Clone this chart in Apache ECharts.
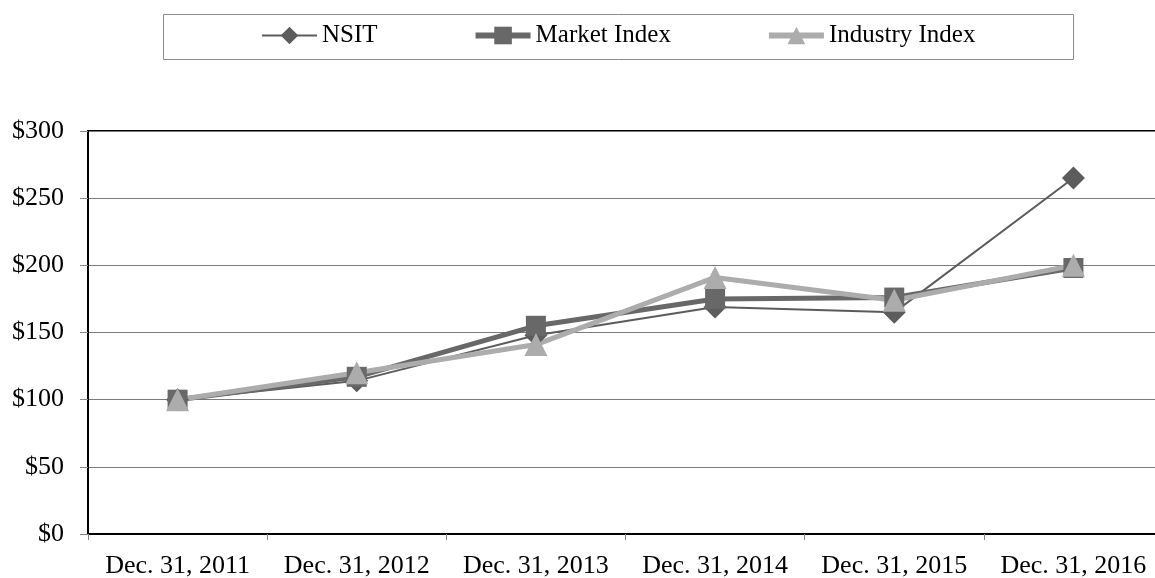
<!DOCTYPE html>
<html>
<head>
<meta charset="utf-8">
<script src="https://cdn.jsdelivr.net/npm/echarts@6/dist/echarts.min.js"></script>
<style>
html,body{margin:0;padding:0;background:#fff;}
#chart{width:1155px;height:578px;}
</style>
</head>
<body>
<div id="chart"></div>
<script>
var categories = ['Dec. 31, 2011','Dec. 31, 2012','Dec. 31, 2013','Dec. 31, 2014','Dec. 31, 2015','Dec. 31, 2016'];
var nsitValues = [100, 114, 148, 169, 165, 265];
var marketValues = [100, 117, 155, 175, 176, 198];
var industryValues = [100, 120, 141, 191, 174, 200];
var seriesNames = ['NSIT', 'Market Index', 'Industry Index'];

var FONT = "'Liberation Serif', 'Times New Roman', serif";
var chart = echarts.init(document.getElementById('chart'), null, {renderer: 'canvas'});
chart.setOption({
  animation: false,
  backgroundColor: '#ffffff',
  graphic: [{
    type: 'rect',
    shape: {x: 163.5, y: 14.5, width: 910, height: 45},
    style: {fill: 'none', stroke: '#8c8c8c', lineWidth: 1},
    z: -1
  }],
  legend: {
    data: [
      {name: seriesNames[0], lineStyle: {width: 2}},
      {name: seriesNames[1], lineStyle: {width: 6}},
      {name: seriesNames[2], lineStyle: {width: 6}}
    ],
    left: 261,
    top: 23,
    padding: 0,
    itemGap: 95,
    itemWidth: 55,
    itemHeight: 22,
    textStyle: {fontFamily: FONT, fontSize: 25, color: '#000'}
  },
  grid: {
    left: 88, width: 1075, top: 131, bottom: 44,
    containLabel: false,
    outerBoundsMode: 'none',
    show: true, borderColor: '#000', borderWidth: 2, backgroundColor: 'transparent'
  },
  xAxis: {
    type: 'category',
    data: categories,
    boundaryGap: true,
    axisLine: {lineStyle: {color: '#000', width: 2}},
    axisTick: {show: true, length: 6, lineStyle: {color: '#888'}},
    axisLabel: {fontFamily: FONT, fontSize: 26, color: '#000', margin: 19, interval: 0},
    splitLine: {show: false}
  },
  yAxis: {
    type: 'value',
    min: 0, max: 300, interval: 50,
    axisLine: {show: true, lineStyle: {color: '#000', width: 2}},
    axisTick: {show: true, length: 8, lineStyle: {color: '#888'}},
    axisLabel: {fontFamily: FONT, fontSize: 26, color: '#000', margin: 24,
      formatter: function (v) { return '$' + v; }},
    splitLine: {show: true, lineStyle: {color: '#7a7a7a', width: 1}}
  },
  series: [
    {
      name: seriesNames[0], type: 'line', data: nsitValues,
      symbol: 'diamond', symbolSize: 23, showAllSymbol: true,
      lineStyle: {color: '#5c5c5c', width: 2},
      itemStyle: {color: '#5c5c5c'}
    },
    {
      name: seriesNames[1], type: 'line', data: marketValues,
      symbol: 'rect', symbolSize: 20, showAllSymbol: true,
      lineStyle: {color: '#686868', width: 5},
      itemStyle: {color: '#686868'}
    },
    {
      name: seriesNames[2], type: 'line', data: industryValues,
      symbol: 'triangle', symbolSize: 23, showAllSymbol: true,
      lineStyle: {color: '#acacac', width: 5},
      itemStyle: {color: '#acacac'}
    }
  ]
});
</script>
</body>
</html>
